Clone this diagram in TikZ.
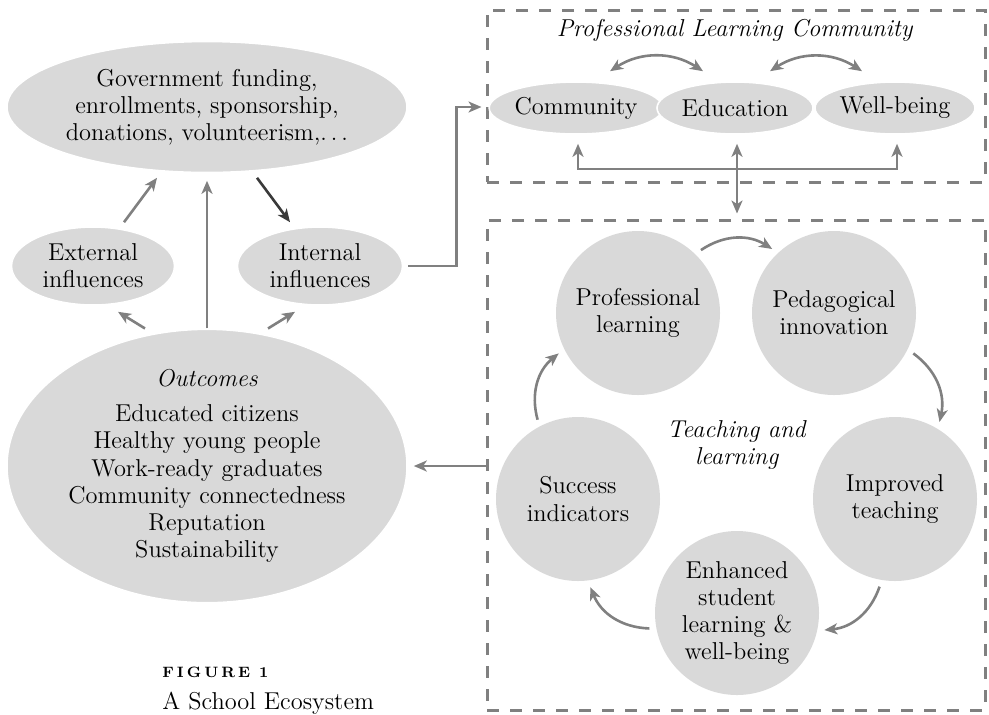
\documentclass[tikz,border=0pt]{standalone}
\usepackage{tikz}
\usepackage{xcolor}
\usetikzlibrary{positioning, arrows.meta, shapes.geometric}

\definecolor{blobgray}{HTML}{D9D9D9}
\definecolor{linegray}{HTML}{808080}
\definecolor{darkarrow}{HTML}{3A3A3A}

\begin{document}
\begin{tikzpicture}[x=0.5pt, y=-0.5pt, font=\fontsize{12.2}{13.6}\selectfont,
    >={Stealth[length=6.5pt, width=5.5pt, inset=1.8pt]},
    blob/.style={ellipse, fill=blobgray, draw=white, line width=0.8pt, inner sep=0pt, align=center},
    disc/.style={circle, fill=blobgray, minimum size=82pt, inner sep=0pt, outer sep=3.5pt, align=center},
    dashbox/.style={draw=linegray, line width=1.5pt, dash pattern=on 6pt off 5.5pt, inner sep=0pt},
    link/.style={draw=linegray, line width=1.3pt}]
  \useasboundingbox (0,0) rectangle (989,714);

  % left side
  \node[blob, minimum width=200pt, minimum height=65.5pt] (funding) at (207,107)
    {Government funding,\\ enrollments, sponsorship,\\ donations, volunteerism,$\ldots$};
  \node[blob, minimum width=81.5pt, minimum height=39pt] (ext) at (93,266) {External\\ influences};
  \node[blob, minimum width=82.5pt, minimum height=39pt] (int) at (320,266) {Internal\\ influences};
  \node[blob, minimum width=200pt, minimum height=109pt] (outc) at (207,466)
    {\textit{Outcomes}\\[4pt] Educated citizens\\ Healthy young people\\ Work-ready graduates\\
     Community connectedness\\ Reputation\\ Sustainability};

  % professional learning community
  \node[dashbox, minimum width=249pt, minimum height=86pt] (plc) at (736,96) {};
  \node (plctitle) at (735,30) {\textit{Professional Learning Community}};
  \node[blob, minimum width=79pt, minimum height=26pt] (comm) at (576,108) {Community};
  \node[blob, minimum width=78pt, minimum height=26pt] (edu) at (735,108) {Education};
  \node[blob, minimum width=80pt, minimum height=26pt] (well) at (895,108) {Well-being};

  % teaching and learning
  \node[dashbox, minimum width=249pt, minimum height=245pt] (tl) at (736,465) {};
  \node[align=center] (tltitle) at (737,445) {\textit{Teaching and}\\ \textit{learning}};
  \node[disc] (pl) at (638,313) {Professional\\ learning};
  \node[disc] (pi) at (834,313) {Pedagogical\\ innovation};
  \node[disc] (it) at (895,499) {Improved\\ teaching};
  \node[disc] (esl) at (737,613) {Enhanced\\ student\\ learning \&\\ well-being};
  \node[disc] (si) at (578,499) {Success\\ indicators};

  % caption
  \node[anchor=base west, inner sep=0pt, font=\fontsize{7.5}{9}\selectfont\bfseries] (fig) at (162,677)
    {F\kern1.5pt I\kern1.5pt G\kern1.5pt U\kern1.5pt R\kern1.5pt E\kern4.5pt 1};
  \node[anchor=base west, inner sep=0pt] (figname) at (162,709) {A School Ecosystem};

  % arrows, left
  \draw[link, ->] ([shift={(31,-4)}]ext.north) -- ([shift={(-50,4.5)}]funding.south);
  \draw[link, ->] (outc.north) -- ([shift={(0,7.5)}]funding.south);
  \draw[->, draw=darkarrow, line width=1.3pt] ([shift={(50,4.5)}]funding.south) -- ([shift={(-30,-4)}]int.north);
  \draw[link, ->] ([shift={(-62,0)}]outc.north) -- ([shift={(25,6)}]ext.south);
  \draw[link, ->] ([shift={(61,0)}]outc.north) -- ([shift={(-25,6)}]int.south);
  \draw[link, ->] ([shift={(5,0)}]int.east) -- ++(48,0) |- ([shift={(-4,11)}]plc.west);
  \draw[link, ->] (tl.west |- outc) -- ([shift={(6,0)}]outc.east);

  % arrows, community
  \draw[link, <->] ([shift={(34,-10)}]comm.north) to[bend left=33] ([shift={(-32,-10)}]edu.north);
  \draw[link, <->] ([shift={(35,-10)}]edu.north) to[bend left=33] ([shift={(-33,-10)}]well.north);
  \draw[link, <->] ([shift={(2,9)}]comm.south) -- ++(0,25) -| ([shift={(2,9)}]well.south);
  \draw[link, <->] ([shift={(2,9)}]edu.south) -- ([shift={(1,-5)}]tl.north);

  % arrows, cycle
  \draw[link, ->] (pl.45) to[bend left=33] (pi.134);
  \draw[link, ->] (pi.-27) to[bend left=33] (it.60);
  \draw[link, ->] (it.-100) to[bend left=33] (esl.-11);
  \draw[link, ->] (esl.190) to[bend left=33] (si.-82);
  \draw[link, ->] (si.117) to[bend left=33] (pl.207);
\end{tikzpicture}
\end{document}
